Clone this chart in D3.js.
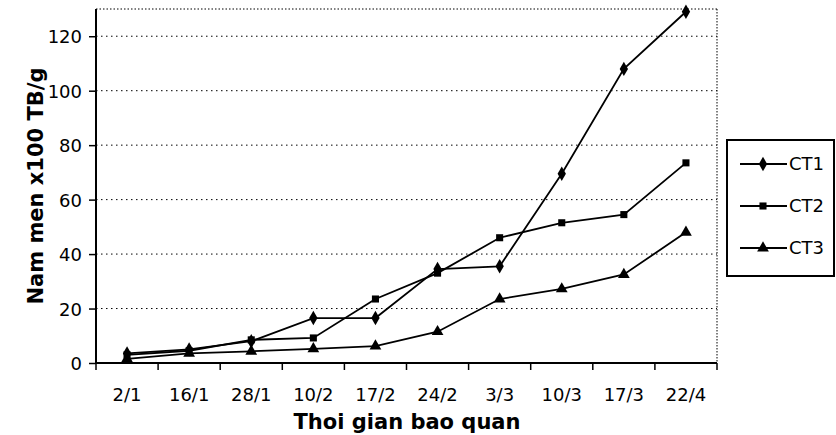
<!DOCTYPE html>
<html><head><meta charset="utf-8">
<script src="https://cdn.jsdelivr.net/npm/d3@7"></script>
<style>body{margin:0;background:#fff}svg{display:block}text{font-family:"DejaVu Sans",Arial,sans-serif;fill:#000}</style>
</head><body>
<script>
const categories = ["2/1","16/1","28/1","10/2","17/2","24/2","3/3","10/3","17/3","22/4"];
const ct1 = [3.5, 5, 8, 16.5, 16.5, 34.5, 35.5, 69.5, 108, 129];
const ct2 = [3, 4.5, 8.5, 9.2, 23.5, 33, 46, 51.5, 54.5, 73.5];
const ct3 = [1.5, 3.5, 4.3, 5.2, 6.2, 11.5, 23.5, 27.2, 32.5, 48];
const seriesNames = ["CT1","CT2","CT3"];
const yTicks = [0,20,40,60,80,100,120];

const W = 836, H = 435;
const m = {left:96, right:717, top:9, bottom:363};
const svg = d3.select("body").append("svg").attr("width",W).attr("height",H);

const x = d3.scaleBand().domain(categories).range([m.left,m.right]).padding(0);
const y = d3.scaleLinear().domain([0,130]).range([m.bottom,m.top]);

// grid
svg.append("g").selectAll("line").data(yTicks.filter(d=>d>0)).join("line")
  .attr("x1",m.left).attr("x2",m.right).attr("y1",d=>y(d)).attr("y2",d=>y(d))
  .attr("stroke","#000").attr("stroke-width",1).attr("stroke-dasharray","1.5,3.5");
// top & right dotted borders
svg.append("line").attr("x1",m.left).attr("x2",m.right).attr("y1",m.top).attr("y2",m.top)
  .attr("stroke","#000").attr("stroke-dasharray","1.5,2");
svg.append("line").attr("x1",m.right).attr("x2",m.right).attr("y1",m.top).attr("y2",m.bottom)
  .attr("stroke","#000").attr("stroke-dasharray","1.5,1.5");

// y axis
const yAxis = svg.append("g").attr("transform",`translate(${m.left},0)`)
  .call(d3.axisLeft(y).tickValues(yTicks).tickSize(7).tickPadding(7).tickFormat(d3.format("d")));
yAxis.select(".domain").attr("d",`M0,${m.top}V${m.bottom}`).attr("stroke-width",2);
yAxis.selectAll(".tick line").attr("stroke-width",1.5);
yAxis.selectAll("text").style("font-size","18px").attr("dy","0.36em");

// x axis with ticks at band boundaries
const xAxis = svg.append("g").attr("transform",`translate(0,${m.bottom})`)
  .call(d3.axisBottom(x).tickSize(0).tickPadding(25));
xAxis.select(".domain").attr("d",`M${m.left},0H${m.right}`).attr("stroke-width",2);
xAxis.selectAll("text").style("font-size","18px");
const bounds = categories.map(c=>x(c)).concat([m.right]);
xAxis.append("g").selectAll("line").data(bounds).join("line")
  .attr("x1",d=>d).attr("x2",d=>d).attr("y1",0).attr("y2",7).attr("stroke","#000").attr("stroke-width",1.5);

// series
const data = [ct1,ct2,ct3];
const symbols = [d3.symbolDiamond, d3.symbolSquare, d3.symbolTriangle];
const sizes = [60, 50, 60];
const line = d3.line().x((d,i)=>x(categories[i])+x.bandwidth()/2).y(d=>y(d));
data.forEach((vals,k)=>{
  svg.append("path").datum(vals).attr("d",line).attr("fill","none").attr("stroke","#000").attr("stroke-width",1.8);
  svg.append("g").selectAll("path").data(vals).join("path")
    .attr("transform",(d,i)=>`translate(${x(categories[i])+x.bandwidth()/2},${y(d)})`)
    .attr("d",d3.symbol().type(symbols[k]).size(sizes[k])).attr("fill","#000");
});

// axis titles
svg.append("text").attr("transform",`translate(43,186) rotate(-90)`)
  .attr("text-anchor","middle").style("font-size","21px").style("font-weight","bold").text("Nam men x100 TB/g");
svg.append("text").attr("x",407).attr("y",429).attr("text-anchor","middle")
  .style("font-size","21px").style("font-weight","bold").text("Thoi gian bao quan");

// legend
const lg = svg.append("g");
lg.append("rect").attr("x",727).attr("y",140).attr("width",107).attr("height",136)
  .attr("fill","#fff").attr("stroke","#000").attr("stroke-width",2);
seriesNames.forEach((n,k)=>{
  const ly = 164 + k*42;
  lg.append("line").attr("x1",740).attr("x2",787).attr("y1",ly).attr("y2",ly).attr("stroke","#000").attr("stroke-width",1.8);
  lg.append("path").attr("transform",`translate(763,${ly})`).attr("d",d3.symbol().type(symbols[k]).size(sizes[k])).attr("fill","#000");
  lg.append("text").attr("x",789).attr("y",ly).attr("dy","0.36em").style("font-size","18px").text(n);
});
</script>
</body></html>
